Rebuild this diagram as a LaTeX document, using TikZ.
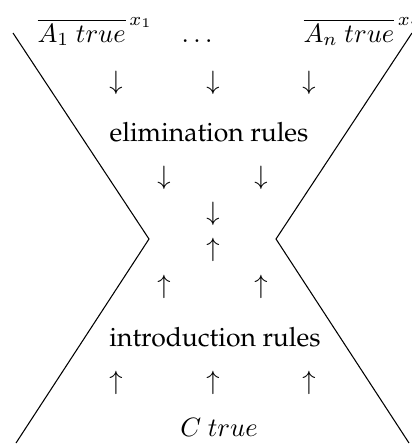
\documentclass[tikz,border=0pt]{standalone}
\usepackage[T1]{fontenc}
\usepackage{amsmath,amssymb}
\usepackage{palatino}
\usepackage{tikz}
\tikzset{
  hyp/.style  ={inner sep=0pt, anchor=base west},
  rulelbl/.style={inner sep=0pt, anchor=base},
  dn/.style   ={inner sep=0pt, font=\normalsize},
  up/.style   ={inner sep=0pt, font=\normalsize},
}

\begin{document}
\begin{tikzpicture}[x=0.377pt, y=-0.377pt]
\useasboundingbox (0,0) rectangle (412,447);
% hypotheses and goal
\node[hyp] (h1) at (37,42) {$\overline{A_1\ true}^{\,x_1}$};
\node[rulelbl] (hd) at (197,42) {$\ldots$};
\node[hyp] (hn) at (303,42) {$\overline{A_n\ true}^{\,x_n}$};
\node[rulelbl] (elim)  at (209,141) {elimination rules};
\node[rulelbl] (intro) at (215,346) {introduction rules};
\node[rulelbl] (goal)  at (219,436) {$C\ true$};
% arrows
\foreach \x/\n in {116/1, 213/2, 309/3} \node[dn] (d\n) at (\x,83) {$\downarrow$};
\foreach \x/\n in {164/4, 261/5} \node[dn] (d\n) at (\x,178) {$\downarrow$};
\node[dn] (d6) at (213,214) {$\downarrow$};
\node[up] (u6) at (213,250) {$\uparrow$};
\foreach \x/\n in {164/4, 261/5} \node[up] (u\n) at (\x,287) {$\uparrow$};
\foreach \x/\n in {116/1, 213/2, 309/3} \node[up] (u\n) at (\x,383) {$\uparrow$};
% the two wedges
\coordinate (tl) at (13,33);  \coordinate (lv) at (149,239); \coordinate (bl) at (16,443);
\coordinate (tr) at (412,33); \coordinate (rv) at (276,239); \coordinate (br) at (409,443);
\draw (tl) -- (lv) -- (bl);
\draw (tr) -- (rv) -- (br);
\end{tikzpicture}
\end{document}
